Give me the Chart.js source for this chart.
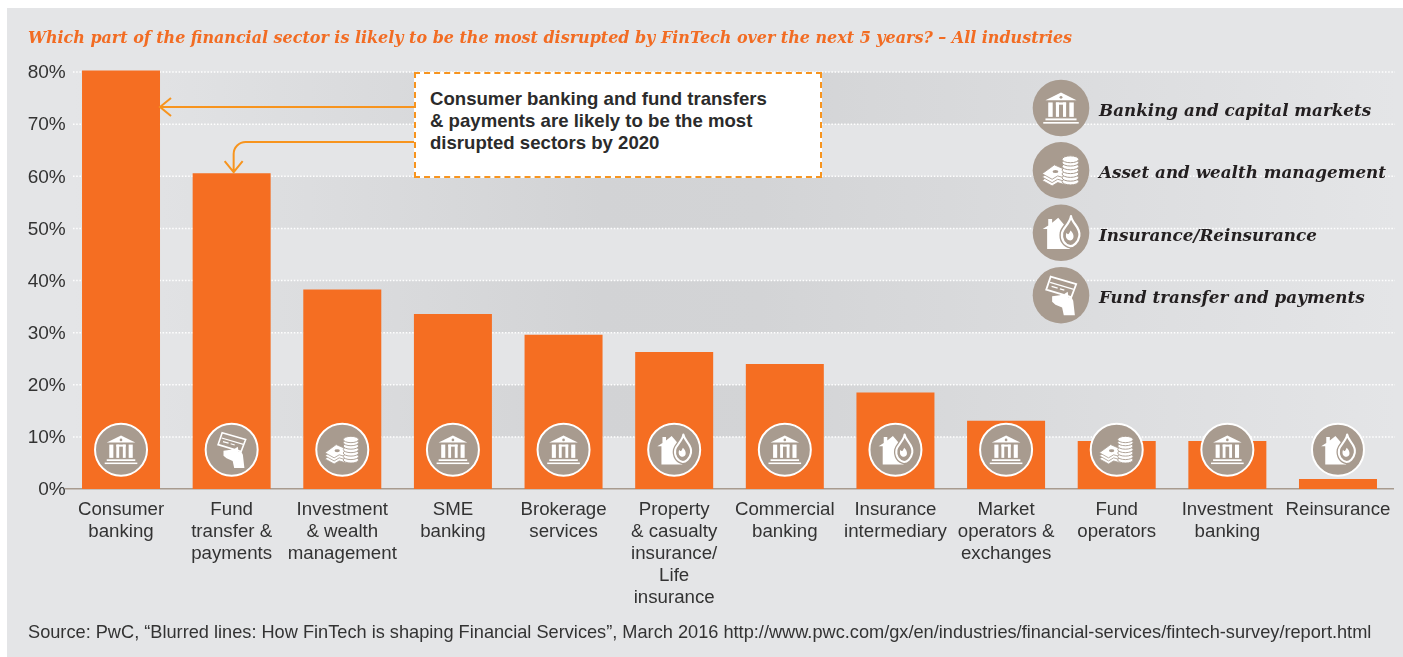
<!DOCTYPE html>
<html>
<head>
<meta charset="utf-8">
<title>FinTech disruption</title>
<script src="https://cdn.jsdelivr.net/npm/chart.js@4/dist/chart.umd.min.js"></script>
<style>
  html, body { margin: 0; padding: 0; background: #fff; overflow: hidden; }
  #wrap { position: relative; width: 1403px; height: 657px; }
  #panel { position: absolute; left: 7px; top: 8px; width: 1396px; height: 649px; background: #e4e5e7; }
  #chart { position: absolute; left: 0; top: 0; }
  .txt { position: absolute; white-space: nowrap; }
  #title { left: 28px; top: 26px; font: italic bold 15.95px/24px "DejaVu Serif", serif; color: #f26c23; }
  #source { left: 28px; top: 621px; font: 18.2px/22px "Liberation Sans", sans-serif; color: #333; }
  #note {
    position: absolute; left: 414px; top: 72px; width: 408px; height: 106px; box-sizing: border-box;
    background: #fff; border: 2px dashed #f7941e; padding: 14px 14px;
    font: bold 18.6px/22px "Liberation Sans", sans-serif; color: #2b2b2b; white-space: nowrap;
  }
  .leg { font: italic bold 16.75px/24px "DejaVu Serif", serif; color: #231f20; left: 1099px; }
</style>
</head>
<body>
<div id="wrap">
  <div id="panel"></div>
  <canvas id="chart" width="1403" height="657"></canvas>
  <div class="txt" id="title">Which part of the financial sector is likely to be the most disrupted by FinTech over the next 5 years? – All industries</div>
  <div id="note">Consumer banking and fund transfers<br>&amp; payments are likely to be the most<br>disrupted sectors by 2020</div>
  <div class="txt leg" style="top:98px">Banking and capital markets</div>
  <div class="txt leg" style="top:160px">Asset and wealth management</div>
  <div class="txt leg" style="top:223px">Insurance/Reinsurance</div>
  <div class="txt leg" style="top:285px">Fund transfer and payments</div>
  <div class="txt" id="source">Source: PwC, “Blurred lines: How FinTech is shaping Financial Services”, March 2016 http://www.pwc.com/gx/en/industries/financial-services/fintech-survey/report.html</div>
</div>

<script>
// ========== DATA ==========
const categories = [
  ['Consumer', 'banking'],
  ['Fund', 'transfer &', 'payments'],
  ['Investment', '& wealth', 'management'],
  ['SME', 'banking'],
  ['Brokerage', 'services'],
  ['Property', '& casualty', 'insurance/', 'Life', 'insurance'],
  ['Commercial', 'banking'],
  ['Insurance', 'intermediary'],
  ['Market', 'operators &', 'exchanges'],
  ['Fund', 'operators'],
  ['Investment', 'banking'],
  ['Reinsurance']
];
const values = [80.3, 60.6, 38.3, 33.6, 29.6, 26.3, 24, 18.5, 13.1, 9.2, 9.2, 1.9];
const iconKinds = ['bank', 'card', 'coins', 'bank', 'bank', 'house', 'bank', 'house', 'bank', 'coins', 'bank', 'house'];
const tickValues = [0, 10, 20, 30, 40, 50, 60, 70, 80];
const shadedBands = [[10, 20], [30, 40], [50, 60], [70, 80]];
const legendKinds = ['bank', 'coins', 'house', 'card'];

const ORANGE = '#f56e22';
const ARROW = '#f7941e';
const TAUPE = '#a89b8f';
const PANEL = '#e4e5e7';

// ========== ICONS ==========
function poly(ctx, pts) {
  ctx.beginPath();
  pts.forEach((p, i) => i ? ctx.lineTo(p[0], p[1]) : ctx.moveTo(p[0], p[1]));
  ctx.closePath();
  ctx.fill();
}

function drawBank(ctx) {
  poly(ctx, [[-14, -7], [0, -14], [14, -7]]);
  ctx.fillStyle = TAUPE;
  ctx.beginPath(); ctx.arc(0, -9.6, 1.3, 0, Math.PI * 2); ctx.fill();
  ctx.fillStyle = '#fff';
  ctx.fillRect(-11.5, -5, 4, 13);
  ctx.fillRect(7.5, -5, 4, 13);
  ctx.fillRect(-4.6, -5, 2.8, 13);
  ctx.fillRect(1.8, -5, 2.8, 13);
  ctx.fillRect(-4.6, -5, 9.2, 2);
  ctx.fillRect(-14, 9.4, 28, 1.7);
  ctx.fillRect(-16, 12.6, 32, 1.5);
}

function flamePath(ctx) {
  ctx.beginPath();
  ctx.moveTo(9, -15);
  ctx.bezierCurveTo(10, -8, 18, -5, 16.5, 3);
  ctx.bezierCurveTo(15.5, 9, 11, 12, 8.5, 12);
  ctx.bezierCurveTo(3, 11, 0, 6, 1, 0);
  ctx.bezierCurveTo(2, -5, 8, -8, 9, -15);
  ctx.closePath();
}

function drawHouse(ctx) {
  poly(ctx, [[-16.5, -3.5], [-12.5, -3.5], [-12.5, 14.5], [8, 14.5], [8, 0], [3, -7], [-2.5, -13.5], [-8, -9], [-8, -12.5], [-11.5, -12.5], [-11.5, -6.5]]);
  // gap between house and flame
  ctx.lineJoin = 'round';
  ctx.strokeStyle = TAUPE;
  ctx.fillStyle = TAUPE;
  ctx.lineWidth = 4.5;
  flamePath(ctx);
  ctx.stroke();
  ctx.fill();
  ctx.strokeStyle = '#fff';
  ctx.lineWidth = 2;
  flamePath(ctx);
  ctx.stroke();
  ctx.fillStyle = '#fff';
  ctx.beginPath();
  ctx.moveTo(5, 0);
  ctx.bezierCurveTo(6, 2, 7, 2, 8.5, -2);
  ctx.bezierCurveTo(12, 1, 12.5, 6, 8.5, 7);
  ctx.bezierCurveTo(5, 7, 3.5, 3.5, 5, 0);
  ctx.fill();
}

function drawCard(ctx) {
  // hand
  poly(ctx, [[-8, 1], [-1, 0], [3, -2], [5, 3], [9, 1], [11, 5], [12.5, 18], [2.5, 18], [1, 11], [-5, 8.5], [-8, 6]]);
  // card
  ctx.fillStyle = TAUPE;
  poly(ctx, [[-9.3, -16.7], [13.7, -10], [9.3, 1.7], [-13.3, -5]]);
  ctx.strokeStyle = '#fff';
  ctx.lineWidth = 1.6;
  ctx.beginPath();
  ctx.moveTo(-9.3, -16.7); ctx.lineTo(13.7, -10); ctx.lineTo(9.3, 1.7); ctx.lineTo(-13.3, -5);
  ctx.closePath();
  ctx.stroke();
  ctx.lineWidth = 1.2;
  ctx.beginPath();
  ctx.moveTo(-9.8, -11.5); ctx.lineTo(11.5, -5.3);
  ctx.moveTo(-8.5, -8); ctx.lineTo(-3, -6.4);
  ctx.moveTo(-1, -5.8); ctx.lineTo(3, -4.6);
  ctx.stroke();
  ctx.fillStyle = '#fff';
  poly(ctx, [[3, -1], [6, -3], [7, 3], [4, 4]]);
}

function drawCoins(ctx) {
  // stacked notes
  [6, 3, 0].forEach(dy => {
    ctx.fillStyle = '#fff';
    poly(ctx, [[-17, 3 + dy], [-6, -5 + dy], [8, 1 + dy], [4, 7 + dy], [-3, 5 + dy], [-8, 8 + dy]]);
    ctx.strokeStyle = TAUPE;
    ctx.lineWidth = 0.8;
    ctx.stroke();
  });
  ctx.fillStyle = TAUPE;
  ctx.beginPath(); ctx.ellipse(-5, 1, 2.6, 1.4, 0, 0, Math.PI * 2); ctx.fill();
  // coin pile
  [10, 6.6, 3.2, -0.2, -3.6, -7, -10].forEach(y => {
    ctx.fillStyle = '#fff';
    ctx.strokeStyle = TAUPE;
    ctx.lineWidth = 0.9;
    ctx.beginPath();
    ctx.ellipse(8.5, y, 7.5, 3.1, 0, 0, Math.PI * 2);
    ctx.fill();
    ctx.stroke();
  });
}

const iconDrawers = { bank: drawBank, house: drawHouse, card: drawCard, coins: drawCoins };

function drawIcon(ctx, kind, cx, cy, r, ring) {
  ctx.save();
  ctx.translate(cx, cy);
  ctx.fillStyle = TAUPE;
  ctx.beginPath();
  ctx.arc(0, 0, r, 0, Math.PI * 2);
  ctx.fill();
  if (ring) {
    ctx.strokeStyle = '#fff';
    ctx.lineWidth = 2;
    ctx.stroke();
  }
  ctx.scale(r / 25.5, r / 25.5);
  ctx.fillStyle = '#fff';
  iconDrawers[kind](ctx);
  ctx.restore();
}

// ========== PLUGINS ==========
const backdrop = {
  id: 'backdrop',
  beforeDatasetsDraw(chart) {
    const { ctx, scales: { y } } = chart;
    const left = 73, right = 1395;
    ctx.save();
    // grey bands, darkest in the middle
    const grad = ctx.createLinearGradient(left, 0, right, 0);
    grad.addColorStop(0, PANEL);
    grad.addColorStop(0.4, '#d2d3d5');
    grad.addColorStop(0.52, '#d3d4d6');
    grad.addColorStop(1, PANEL);
    ctx.fillStyle = grad;
    shadedBands.forEach(b => {
      const top = y.getPixelForValue(b[1]);
      ctx.fillRect(left, top, right - left, y.getPixelForValue(b[0]) - top);
    });
    // dotted grid lines
    ctx.strokeStyle = '#fff';
    ctx.lineWidth = 1.5;
    ctx.setLineDash([1.5, 1.7]);
    tickValues.filter(v => v > 0).forEach(v => {
      const py = y.getPixelForValue(v);
      ctx.beginPath();
      ctx.moveTo(left, py);
      ctx.lineTo(right, py);
      ctx.stroke();
    });
    ctx.restore();
  }
};

const overlays = {
  id: 'overlays',
  afterDatasetsDraw(chart) {
    const { ctx } = chart;
    const bars = chart.getDatasetMeta(0).data;

    // circles on the bars
    iconKinds.forEach((kind, i) => drawIcon(ctx, kind, bars[i].x, 449.7, 26, true));

    // side legend circles
    legendKinds.forEach((kind, i) => drawIcon(ctx, kind, 1061, 108 + i * 62.4, 28.3, false));

    // arrows from the note box
    ctx.save();
    ctx.strokeStyle = ARROW;
    ctx.lineWidth = 2;
    ctx.lineJoin = 'miter';
    const tipX = bars[0].x + bars[0].width / 2;
    ctx.beginPath();
    ctx.moveTo(415, 107);
    ctx.lineTo(tipX, 107);
    ctx.moveTo(tipX + 11, 98);
    ctx.lineTo(tipX, 107);
    ctx.lineTo(tipX + 11, 116);
    ctx.stroke();

    const tipY = bars[1].y - 1;
    const x2 = bars[1].x + 2;
    ctx.beginPath();
    ctx.moveTo(415, 142);
    ctx.lineTo(x2 + 12, 142);
    ctx.arcTo(x2, 142, x2, 154, 12);
    ctx.lineTo(x2, tipY);
    ctx.moveTo(x2 - 9, tipY - 11);
    ctx.lineTo(x2, tipY);
    ctx.lineTo(x2 + 9, tipY - 11);
    ctx.stroke();
    ctx.restore();
  }
};

// ========== CHART ==========
new Chart(document.getElementById('chart'), {
  type: 'bar',
  data: {
    labels: categories,
    datasets: [{
      data: values,
      backgroundColor: ORANGE,
      borderWidth: 0,
      barPercentage: 0.705,
      categoryPercentage: 1
    }]
  },
  options: {
    responsive: false,
    animation: false,
    layout: { padding: { top: 70, right: 9.7, left: 0, bottom: 0 } },
    plugins: { legend: { display: false }, tooltip: { enabled: false } },
    scales: {
      x: {
        grid: { display: false, drawTicks: false },
        border: { color: TAUPE, width: 1.5 },
        afterFit: s => { s.height = 168; },
        ticks: {
          autoSkip: false, maxRotation: 0, minRotation: 0, padding: 10,
          color: '#333',
          font: { family: '"Liberation Sans", sans-serif', size: 18.7, lineHeight: 22 / 18.7 }
        }
      },
      y: {
        min: 0,
        max: 80.4,
        grid: { display: false, drawTicks: false },
        border: { display: false },
        afterFit: s => { s.width = 65.7; },
        afterBuildTicks: s => { s.ticks = tickValues.map(v => ({ value: v })); },
        ticks: {
          padding: 0,
          labelOffset: 1,
          color: '#333',
          font: { family: '"Liberation Sans", sans-serif', size: 19 },
          callback: v => v + '%'
        }
      }
    }
  },
  plugins: [backdrop, overlays]
});
</script>
</body>
</html>
